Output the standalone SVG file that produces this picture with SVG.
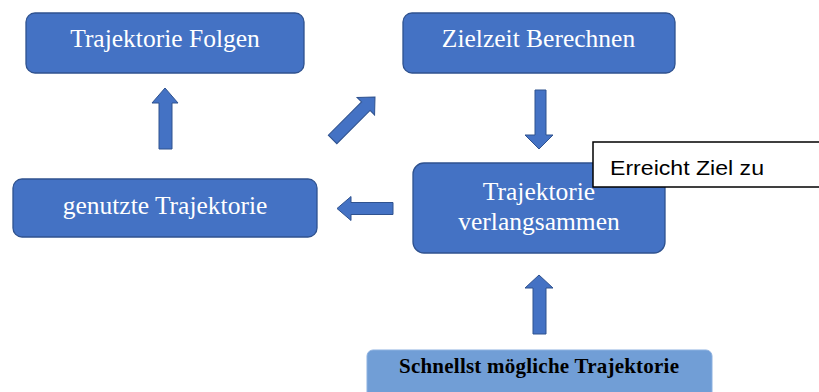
<svg xmlns="http://www.w3.org/2000/svg" width="819" height="392" viewBox="0 0 819 392">
<style>
.box{fill:#4472C4;stroke:#2F528F;stroke-width:1.3}
.lt{font-family:"Liberation Serif","Times New Roman",serif;font-size:25.5px;fill:#fff;text-anchor:middle}
.arr{fill:#4472C4;stroke:#2F528F;stroke-width:1}
</style>
<rect width="819" height="392" fill="#fff"/>
<g id="n-folgen">
<rect class="box" x="26" y="13" width="278" height="60" rx="9"/>
<text class="lt" x="165" y="47">Trajektorie Folgen</text>
</g>
<g id="n-zielzeit">
<rect class="box" x="403" y="13" width="272" height="60" rx="9"/>
<text class="lt" x="538.5" y="47">Zielzeit Berechnen</text>
</g>
<g id="n-genutzt">
<rect class="box" x="13" y="179" width="304" height="58" rx="9"/>
<text class="lt" x="165" y="214">genutzte Trajektorie</text>
</g>
<g id="n-verlang">
<rect class="box" x="413" y="163" width="252" height="90" rx="11"/>
<text class="lt" x="539" y="200">Trajektorie</text>
<text class="lt" x="539" y="230">verlangsammen</text>
</g>
<g id="n-schnellst">
<rect x="367" y="350" width="345" height="60" rx="6" fill="#719ED6" stroke="#8DB1E0" stroke-width="1"/>
<text x="539" y="373" font-family="'Liberation Serif','Times New Roman',serif" font-weight="bold" font-size="21px" fill="#000" text-anchor="middle" textLength="280" lengthAdjust="spacing">Schnellst mögliche Trajektorie</text>
</g>
<g id="n-erreicht">
<rect x="593" y="142" width="240" height="45" fill="#fff" stroke="#000" stroke-width="1.5"/>
<text x="610" y="175" font-family="'Liberation Sans',Arial,sans-serif" font-size="21px" fill="#000" textLength="154" lengthAdjust="spacingAndGlyphs">Erreicht Ziel zu</text>
</g>
<g id="connectors">
<polygon class="arr" points="165,88 178,103 172,103 172,149 159,149 159,103 152,103"/>
<polygon class="arr" points="0,0 12.4,13 6,13 6,60 -6,60 -6,13 -12.4,13" transform="translate(375,97) rotate(45)"/>
<polygon class="arr" points="535,90 546,90 546,135 553,135 539,149 525,135 535,135"/>
<polygon class="arr" points="337,208.5 351,196.5 351,202.5 393,202.5 393,214.5 351,214.5 351,220.5"/>
<polygon class="arr" points="539,275 553,288 546,288 546,334 533,334 533,288 525,288"/>
</g>
</svg>
